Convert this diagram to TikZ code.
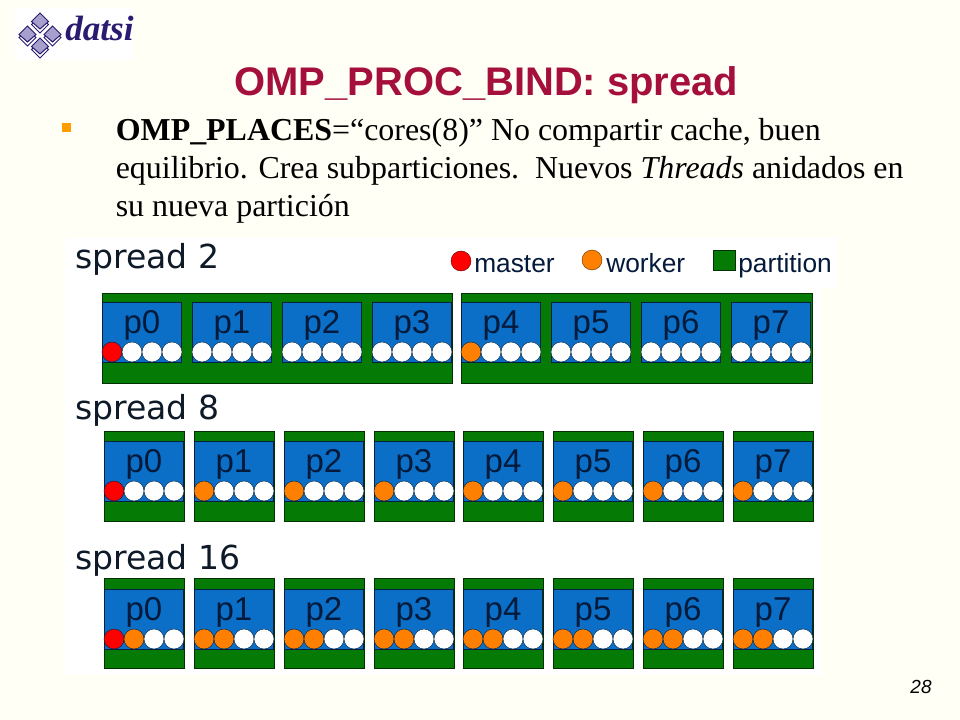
\documentclass[tikz,border=0pt]{standalone}
\usepackage{fontspec}
\setmainfont{Liberation Serif}
\setsansfont{Liberation Sans}
\newfontfamily\verdanafont{DejaVu Sans}
\definecolor{slidebg}{HTML}{FFFFF5}
\definecolor{titlec}{HTML}{A50F3C}
\definecolor{bulletc}{HTML}{FF9C00}
\definecolor{partc}{HTML}{057A05}
\definecolor{placec}{HTML}{0B6FC8}
\definecolor{inkc}{HTML}{041A3A}
\definecolor{rowinkc}{HTML}{0E1A28}
\definecolor{workerc}{HTML}{FF8000}
\definecolor{logoc}{HTML}{2A1A70}
\definecolor{logofill}{HTML}{A8A0CC}
\tikzset{
  part/.style={draw=black!60!partc,fill=partc,line width=.4pt},
  placebox/.style={draw=black!70!placec,fill=placec,line width=.4pt,
    minimum width=1.985cm,minimum height=1.5cm,inner sep=0pt,anchor=north west},
  placetext/.style={font=\sffamily\fontsize{23.5}{23.5}\selectfont,text=inkc,anchor=base},
  dot/.style={circle,draw=black!70!placec,line width=.3pt,inner sep=0pt,minimum size=.5cm},
  rowtext/.style={font=\verdanafont\fontsize{23.5}{23.5}\selectfont,text=rowinkc,anchor=base west},
  legendtext/.style={font=\sffamily\fontsize{18.7}{18.7}\selectfont,text=inkc,anchor=base west},
  bodytext/.style={font=\fontsize{22.7}{22.7}\selectfont,anchor=base west},
  logotile/.style={draw=logoc,fill=logofill,line width=.7pt}
}
\newcommand{\placerow}[5]{
  \foreach \p/\x/\n in {#5} {
    \node[placebox] (#1p\p) at (\x,#4) {};
    \node[placetext] (#1t\p) at (\x+40,#4+31.5) {p\p};
    \foreach \s in {0,1,2,3} {
      \ifnum\s<\n \def\dotc{workerc}\else\def\dotc{white}\fi
      \ifnum\numexpr\p+\s\relax=0 \def\dotc{red}\fi
      \node[dot,fill=\dotc] (#1p\p s\s) at (\x+10+20*\s,#4+50) {};
    }
  }
}
\newcommand{\logotile}[2]{
  \draw[logotile,fill=white] (#1,#2-6) -- (#1+8.5,#2+1.5) -- (#1,#2+10) -- (#1-8.5,#2+1.5) -- cycle;
  \draw[logotile] (#1,#2-10) -- (#1+8.5,#2-1.5) -- (#1,#2+6) -- (#1-8.5,#2-1.5) -- cycle;
}

\begin{document}
\begin{tikzpicture}[x=.025cm,y=-.025cm]
    \useasboundingbox (0,0) rectangle (960,720);
    \fill[slidebg] (0,0) rectangle (960,720);
    \fill[white] (15,8) rectangle (133,60);
    \fill[white] (65,238) rectangle (822,675);
    \fill[white] (435,238) rectangle (838,288);
    \logotile{40}{23}
    \logotile{27.5}{36}
    \logotile{52.5}{36}
    \logotile{40}{48}
    \node[font=\bfseries\itshape\fontsize{25}{25}\selectfont,text=logoc,anchor=base west,
      inner sep=0pt] (logo) at (65,41) {datsi};
    \node[font=\sffamily\bfseries\fontsize{28.4}{28.4}\selectfont,text=titlec,anchor=base,
      inner sep=0pt] (title) at (486.5,96) {OMP\_PROC\_BIND: spread};
    \fill[bulletc] (62,123) rectangle (71,132);
    \node[bodytext,inner sep=0pt] (line1) at (115.5,141)
      {\textbf{OMP\_PLACES}=“cores(8)” No compartir cache, buen};
    \node[bodytext,inner sep=0pt] (line2) at (115.5,179)
      {equilibrio. Crea subparticiones.\ \ Nuevos \textit{Threads} anidados en};
    \node[bodytext,inner sep=0pt] (line3) at (115.5,217) {su nueva partición};
    \node[rowtext,inner sep=0pt] (row1) at (75,269) {spread 2};
    \node[rowtext,inner sep=0pt] (row2) at (75,420) {spread 8};
    \node[rowtext,inner sep=0pt] (row3) at (75,570) {spread 16};
    \node[dot,fill=red,draw=black!60!red] (master) at (461,261) {};
    \node[legendtext,inner sep=0pt] (mastert) at (474,273) {master};
    \node[dot,fill=workerc,draw=black!60!workerc] (worker) at (592,260) {};
    \node[legendtext,inner sep=0pt] (workert) at (606,273) {worker};
    \draw[part] (713,250) rectangle (735,270);
    \node[legendtext,inner sep=0pt] (partt) at (738,273) {partition};
    \draw[part] (102,293) rectangle (452,383);
    \draw[part] (461,293) rectangle (812,383);
    \foreach \x in {104,194,284,374,463,553,643,733} {
      \draw[part] (\x,431) rectangle (\x+80,521);
      \draw[part] (\x,578) rectangle (\x+80,668);
    }
    \placerow{a}{0}{293}{302}{0/102/1,1/192/0,2/282/0,3/372/0,4/461/1,5/551/0,6/641/0,7/731/0}
    \placerow{b}{2}{431}{441}{0/104/1,1/194/1,2/284/1,3/374/1,4/463/1,5/553/1,6/643/1,7/733/1}
    \placerow{c}{2}{578}{589}{0/104/2,1/194/2,2/284/2,3/374/2,4/463/2,5/553/2,6/643/2,7/733/2}
    \node[font=\sffamily\itshape\fontsize{13.5}{13.5}\selectfont,anchor=base,inner sep=0pt] (pagenum)
      at (921,693) {28};
  \end{tikzpicture}
\end{document}
